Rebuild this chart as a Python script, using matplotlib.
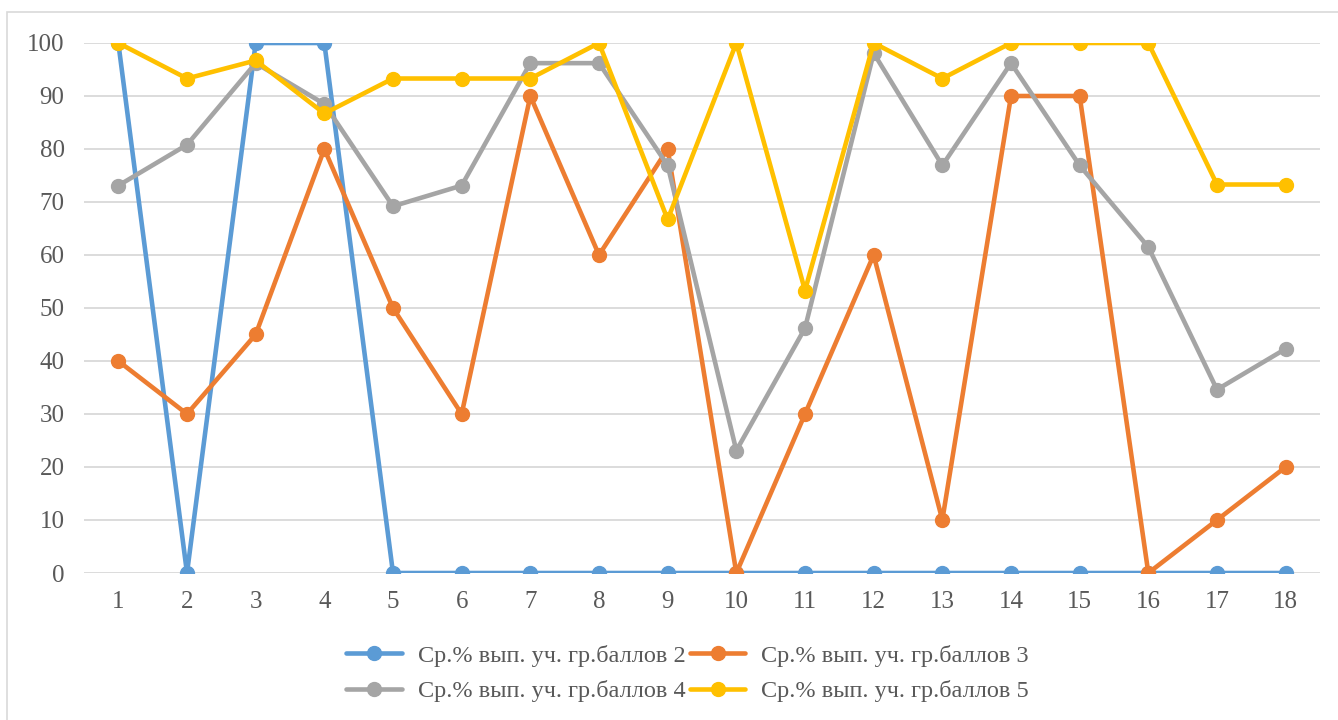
import matplotlib
matplotlib.use("Agg")
import matplotlib.pyplot as plt
from matplotlib.patches import Rectangle

x = list(range(1, 19))
s2 = [100, 0, 100, 100, 0, 0, 0, 0, 0, 0, 0, 0, 0, 0, 0, 0, 0, 0]
s3 = [40, 30, 45, 80, 50, 30, 90, 60, 80, 0, 30, 60, 10, 90, 90, 0, 10, 20]
s4 = [73.1, 80.8, 96.2, 88.5, 69.2, 73.1, 96.2, 96.2, 76.9, 23.1, 46.2, 98.1,
      76.9, 96.2, 76.9, 61.5, 34.6, 42.3]
s5 = [100, 93.3, 96.7, 86.7, 93.3, 93.3, 93.3, 100, 66.7, 100, 53.3, 100,
      93.3, 100, 100, 100, 73.3, 73.3]
names = ["Ср.% вып. уч. гр.баллов 2", "Ср.% вып. уч. гр.баллов 3",
         "Ср.% вып. уч. гр.баллов 4", "Ср.% вып. уч. гр.баллов 5"]
colors = ["#5B9BD5", "#ED7D31", "#A5A5A5", "#FFC000"]
yticks = [0, 10, 20, 30, 40, 50, 60, 70, 80, 90, 100]

TXT = "#595959"
plt.rcParams["font.family"] = ["Liberation Serif", "DejaVu Serif"]

fig = plt.figure(figsize=(13.38, 7.2), dpi=100)
ax = fig.add_axes([84 / 1338, 1 - 573 / 720, (1320 - 84) / 1338, 530 / 720])

# outer chart border
fig.patches.append(Rectangle((7 / 1338, -0.01), 1.0, 1 - 12 / 720 + 0.01,
                             transform=fig.transFigure, fill=False,
                             edgecolor="#D9D9D9", lw=1.2))

handles = []
for ys, c, n in zip([s2, s3, s4, s5], colors, names):
    h, = ax.plot(x, ys, color=c, lw=3.3, marker="o", markersize=10,
                 label=n, solid_capstyle="round", zorder=3)
    handles.append(h)

ax.set_xlim(0.5, 18.5)
ax.set_ylim(0, 100)
ax.set_yticks(yticks)
ax.set_xticks(x)
ax.yaxis.grid(True, color="#D9D9D9", lw=1.3, zorder=0)
ax.set_axisbelow(True)
for sp in ax.spines.values():
    sp.set_visible(False)
ax.tick_params(length=0, labelsize=18, colors=TXT)
ax.tick_params(axis="y", pad=14)
ax.tick_params(axis="x", pad=13)
for lbl in ax.get_xticklabels() + ax.get_yticklabels():
    lbl.set_color(TXT)

# row-major order like the original legend (matplotlib fills by column)
order = [0, 2, 1, 3]
leg = fig.legend([handles[i] for i in order], [names[i] for i in order],
                 loc="center", bbox_to_anchor=(0.514, 0.0646),
                 ncol=2, frameon=False, fontsize=17.5, handlelength=2.3,
                 columnspacing=0.15, handletextpad=0.65, labelspacing=0.55)
for t in leg.get_texts():
    t.set_color(TXT)

fig.savefig("out.png", dpi=100)
